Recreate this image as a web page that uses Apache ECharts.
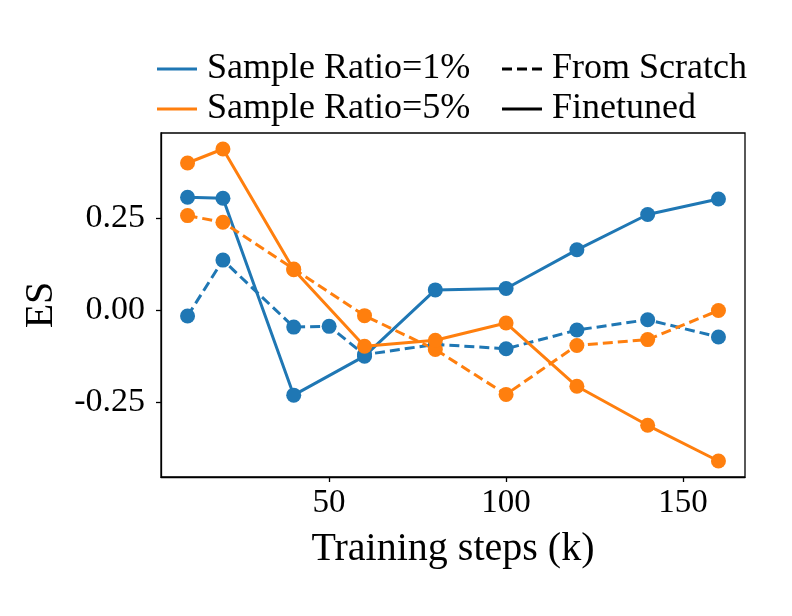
<!DOCTYPE html>
<html>
<head>
<meta charset="utf-8">
<script src="https://cdn.jsdelivr.net/npm/echarts@6/dist/echarts.min.js"></script>
<style>
  html, body { margin: 0; padding: 0; background: #fff; }
  #chart { width: 792px; height: 616px; }
</style>
</head>
<body>
<div id="chart"></div>
<script>
  // training steps (k)
  var steps = [10, 20, 40, 50, 60, 80, 100, 120, 140, 160];
  var stepsNo50 = [10, 20, 40, 60, 80, 100, 120, 140, 160];

  // ES values
  var r1Scratch = [-0.015, 0.137, -0.045, -0.043, -0.120, -0.092, -0.104, -0.053, -0.025, -0.072];
  var r1Finetuned = [0.308, 0.305, -0.230, -0.124, 0.056, 0.060, 0.165, 0.261, 0.303];
  var r5Scratch = [0.258, 0.240, 0.113, -0.014, -0.106, -0.228, -0.095, -0.079, 0.000];
  var r5Finetuned = [0.401, 0.439, 0.111, -0.097, -0.081, -0.034, -0.206, -0.312, -0.409];

  var xTicks = [50, 100, 150];
  var yTicks = [-0.25, 0, 0.25];

  var BLUE = '#1f77b4';
  var ORANGE = '#ff7f0e';
  var FONT = '"Liberation Serif", "Times New Roman", serif';

  // legend handles: a plain bar, and the same bar cut into three dashes
  var SOLID_ICON = 'path://M0,0h40v3h-40z';
  var DASH_ICON = 'path://M0,0h10v3h-10z M15,0h10v3h-10z M30,0h10v3h-10z';

  function pairs(xs, ys) {
    return xs.map(function (x, i) { return [x, ys[i]]; });
  }

  function dataSeries(name, xs, ys, color, dashed) {
    return {
      name: name,
      type: 'line',
      data: pairs(xs, ys),
      symbol: 'circle',
      symbolSize: 15,
      color: color,
      itemStyle: { color: color },
      lineStyle: { color: color, width: 3, type: dashed ? [10, 5] : 'solid' },
      animation: false
    };
  }

  // empty series, only there to give the legends their handles
  function legendSeries(name, color) {
    return {
      name: name,
      type: 'line',
      data: [],
      symbol: 'none',
      color: color,
      itemStyle: { color: color },
      lineStyle: { color: color }
    };
  }

  var chart = echarts.init(document.getElementById('chart'), null, { renderer: 'canvas' });

  var legendText = { fontFamily: FONT, fontSize: 36, color: '#000', padding: [0, 0, 0, 5] };

  chart.setOption({
    animation: false,
    backgroundColor: '#fff',
    grid: {
      left: 161, right: 47, top: 133, bottom: 139,
      show: true, borderColor: '#000', borderWidth: 1.3
    },
    legend: [
      {
        data: [
          { name: 'Sample Ratio=1%', icon: SOLID_ICON },
          { name: 'Sample Ratio=5%', icon: SOLID_ICON }
        ],
        orient: 'vertical',
        left: 152, top: 46,
        itemWidth: 40, itemHeight: 3, itemGap: 4,
        textStyle: legendText,
        selectedMode: false
      },
      {
        data: [
          { name: 'From Scratch', icon: DASH_ICON },
          { name: 'Finetuned', icon: SOLID_ICON }
        ],
        orient: 'vertical',
        left: 497, top: 46,
        itemWidth: 40, itemHeight: 3, itemGap: 4,
        textStyle: legendText,
        selectedMode: false
      }
    ],
    xAxis: {
      type: 'value',
      min: 2.5, max: 167.5,
      name: 'Training steps (k)',
      nameLocation: 'middle',
      nameGap: 52,
      nameTextStyle: { fontFamily: FONT, fontSize: 40, color: '#000' },
      axisLine: { show: true, onZero: false, lineStyle: { color: '#000', width: 1.3 } },
      axisTick: { show: true, inside: false, length: 5, customValues: xTicks, lineStyle: { color: '#000', width: 1.3 } },
      axisLabel: {
        customValues: xTicks,
        fontFamily: FONT, fontSize: 33, color: '#000', margin: 10,
        formatter: function (v) { return String(v); }
      },
      splitLine: { show: false }
    },
    yAxis: {
      type: 'value',
      min: -0.4525, max: 0.4825,
      name: 'ES',
      nameLocation: 'middle',
      nameGap: 100,
      nameRotate: 90,
      nameTextStyle: { fontFamily: FONT, fontSize: 40, color: '#000' },
      axisLine: { show: true, onZero: false, lineStyle: { color: '#000', width: 1.3 } },
      axisTick: { show: true, inside: false, length: 5, customValues: yTicks, lineStyle: { color: '#000', width: 1.3 } },
      axisLabel: {
        customValues: yTicks,
        fontFamily: FONT, fontSize: 34, color: '#000', margin: 16,
        formatter: function (v) { return v.toFixed(2); }
      },
      splitLine: { show: false }
    },
    series: [
      dataSeries('1% scratch', steps, r1Scratch, BLUE, true),
      dataSeries('1% finetuned', stepsNo50, r1Finetuned, BLUE, false),
      dataSeries('5% scratch', stepsNo50, r5Scratch, ORANGE, true),
      dataSeries('5% finetuned', stepsNo50, r5Finetuned, ORANGE, false),
      legendSeries('Sample Ratio=1%', BLUE),
      legendSeries('Sample Ratio=5%', ORANGE),
      legendSeries('From Scratch', '#000'),
      legendSeries('Finetuned', '#000')
    ]
  });
</script>
</body>
</html>
